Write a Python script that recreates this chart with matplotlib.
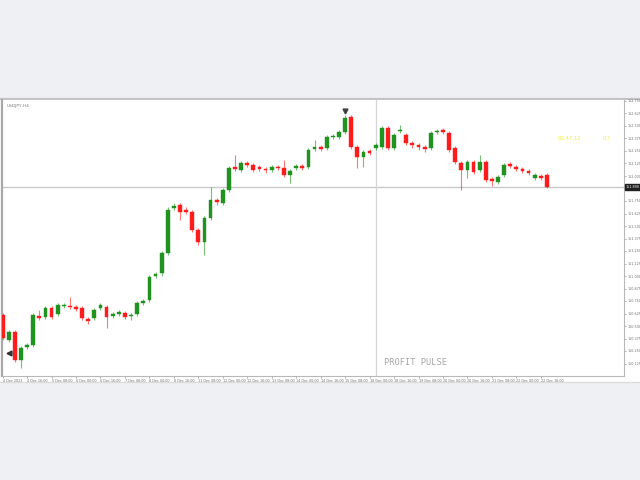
import matplotlib
matplotlib.use("Agg")
import matplotlib.pyplot as plt
from matplotlib.patches import Rectangle
from matplotlib.lines import Line2D
import numpy as np

# ---- data (USDJPY H4) ----
opens = [150.61,150.36,150.44,150.16,150.29,150.31,150.60,150.59,150.68,150.62,
         150.70,150.70,150.69,150.68,150.57,150.58,150.68,150.69,150.60,150.62,
         150.63,150.60,150.62,150.73,150.76,151.00,151.03,151.23,151.68,151.71,
         151.66,151.64,151.46,151.34,151.58,151.76,151.73,151.86,152.09,152.06,
         152.13,152.11,152.09,152.07,152.06,152.09,152.08,152.01,152.08,152.10,
         152.09,152.27,152.29,152.28,152.39,152.39,152.44,152.59,152.29,152.19,
         152.25,152.28,152.29,152.48,152.28,152.45,152.41,152.33,152.31,152.29,
         152.28,152.44,152.46,152.43,152.28,152.13,152.06,152.14,152.06,152.14,
         151.97,151.94,152.01,152.12,152.09,152.07,152.05,151.98,152.00,152.01]
closes = [150.38,150.44,150.16,150.28,150.31,150.61,150.58,150.68,150.59,150.71,
          150.71,150.69,150.67,150.58,150.55,150.66,150.71,150.59,150.62,150.64,
          150.59,150.61,150.73,150.75,150.99,151.02,151.23,151.66,151.70,151.64,
          151.64,151.46,151.34,151.58,151.76,151.74,151.86,152.08,152.07,152.13,
          152.11,152.06,152.07,152.06,152.09,152.08,152.01,152.05,152.10,152.08,
          152.26,152.29,152.27,152.39,152.40,152.44,152.58,152.29,152.19,152.24,
          152.23,152.31,152.48,152.28,152.41,152.46,152.33,152.31,152.29,152.27,
          152.43,152.45,152.44,152.26,152.14,152.06,152.14,152.04,152.14,151.96,
          151.95,151.99,152.11,152.10,152.07,152.05,152.03,152.01,151.98,151.89]
highs = [150.63,150.46,150.46,150.30,150.33,150.63,150.66,150.70,150.70,150.73,
         150.73,150.79,150.71,150.70,150.59,150.68,150.73,150.71,150.64,150.66,
         150.65,150.63,150.75,150.77,151.01,151.04,151.25,151.69,151.73,151.73,
         151.69,151.66,151.48,151.60,151.89,151.78,151.88,152.10,152.21,152.15,
         152.15,152.13,152.11,152.09,152.11,152.11,152.16,152.07,152.12,152.12,
         152.28,152.36,152.31,152.41,152.42,152.46,152.61,152.61,152.31,152.26,
         152.27,152.33,152.50,152.50,152.43,152.51,152.43,152.35,152.33,152.31,
         152.45,152.47,152.48,152.45,152.30,152.15,152.16,152.16,152.21,152.16,
         151.99,152.01,152.13,152.14,152.11,152.09,152.07,152.03,152.02,152.03]
lows = [150.36,150.34,150.14,150.08,150.27,150.29,150.56,150.57,150.57,150.60,
        150.68,150.67,150.65,150.56,150.52,150.56,150.66,150.48,150.58,150.60,
        150.57,150.56,150.60,150.71,150.74,150.98,151.00,151.21,151.66,151.56,
        151.62,151.44,151.31,151.21,151.56,151.71,151.71,151.84,152.05,152.04,
        152.09,152.04,152.05,152.03,152.04,152.06,151.99,151.93,152.06,152.06,
        152.07,152.25,152.25,152.26,152.37,152.37,152.42,152.27,152.08,152.09,
        152.21,152.26,152.27,152.26,152.26,152.43,152.31,152.28,152.26,152.24,
        152.26,152.42,152.42,152.24,152.12,151.86,151.98,152.02,152.04,151.94,
        151.90,151.92,151.99,152.08,152.05,152.03,152.01,151.96,151.96,151.88]
date_labels = ["4 Dec 2023","4 Dec 16:00","5 Dec 08:00","6 Dec 00:00","6 Dec 16:00",
               "7 Dec 08:00","8 Dec 00:00","8 Dec 16:00","11 Dec 08:00","12 Dec 00:00",
               "12 Dec 16:00","13 Dec 08:00","14 Dec 00:00","14 Dec 16:00","15 Dec 08:00",
               "18 Dec 00:00","18 Dec 16:00","19 Dec 08:00","20 Dec 00:00","20 Dec 16:00",
               "21 Dec 08:00","22 Dec 00:00","22 Dec 16:00"]
current_price = 151.89
crosshair_index = 61.1
buy_arrow_price = 150.23
symbol_label = "USDJPY,H4"
watermark = "PROFIT PULSE"
timer_text = "00:47:12"
spread_text = "0.7"

GREEN = "#1f921f"
RED = "#ff1c1c"

fig = plt.figure(figsize=(6.4, 4.8), dpi=100, facecolor="#eff0f4")
# white chart panel
panel = Rectangle((0, 1 - 382/480), 1, (382 - 98)/480, transform=fig.transFigure,
                  facecolor="white", edgecolor="none", zorder=-5)
fig.patches.append(panel)
fig.lines.append(Line2D([0, 1], [1 - 98.5/480]*2, transform=fig.transFigure,
                        color="#c4c4c4", lw=1.6, zorder=-4))
fig.lines.append(Line2D([0, 1], [1 - 381.5/480]*2, transform=fig.transFigure,
                        color="#dcdcdc", lw=1.0, zorder=-4))

ax = fig.add_axes([2/640, 1 - 376/480, (624 - 2)/640, (376 - 100)/480])
ax.set_zorder(2)
ax.set_facecolor("white")

n = len(opens)
idx = np.arange(n)
o = np.array(opens); c = np.array(closes); h = np.array(highs); l = np.array(lows)
up = c >= o
cols = np.where(up, GREEN, RED)
ax.vlines(idx, l, h, colors=cols, lw=0.8, alpha=0.6, zorder=3)
body_bottom = np.minimum(o, c)
body_h = np.maximum(np.abs(c - o), 0.012)
ax.bar(idx, body_h, bottom=body_bottom, width=0.62, color=cols, edgecolor=cols,
       linewidth=0.3, zorder=4)

# price line and crosshair
ax.axhline(current_price, color="#c8c8c8", lw=1.0, zorder=1)
ax.axvline(crosshair_index, color="#d4d4d4", lw=0.9, zorder=1)

ax.set_xlim(-0.1, 101.6)
ax.set_ylim(150.00, 152.76)

# right price axis
ax.yaxis.tick_right()
yt = np.arange(150.125, 152.76, 0.125)
ax.set_yticks(yt)
ax.set_yticklabels(["" if abs(v - current_price) < 0.06 else f"{v:.3f}" for v in yt],
                   fontsize=2.4, color="#707070")
ax.tick_params(axis="y", length=1.5, width=0.5, color="#909090", pad=0.8)
ax.set_xticks(np.arange(0, 4*len(date_labels), 4))
ax.set_xticklabels(date_labels, fontsize=2.4, color="#707070", ha="left")
ax.tick_params(axis="x", length=1.2, width=0.5, color="#909090", pad=0.8)

ax.spines["top"].set_visible(False)
ax.spines["left"].set_color("#a8a8a8"); ax.spines["left"].set_linewidth(1.6)
ax.spines["right"].set_color("#b8b8b8"); ax.spines["right"].set_linewidth(0.8)
ax.spines["bottom"].set_color("#b8b8b8"); ax.spines["bottom"].set_linewidth(0.8)

# current price label on the axis
ax.annotate(f"{current_price:.3f}", xy=(1.0, current_price), xycoords=("axes fraction", "data"),
            xytext=(1.5, 0), textcoords="offset points", fontsize=2.4, color="white",
            va="center", ha="left",
            bbox=dict(boxstyle="square,pad=0.3", fc="#202020", ec="#202020"), zorder=6,
            annotation_clip=False)

# texts
ax.text(0.008, 0.985, symbol_label, transform=ax.transAxes, fontsize=3.2, color="#808080",
        va="top", ha="left")
ax.text(0.912, 0.86, timer_text, transform=ax.transAxes, fontsize=3.8, color="#f0ec40",
        va="center", ha="center")
ax.text(0.972, 0.86, spread_text, transform=ax.transAxes, fontsize=3.8, color="#f0ec40",
        va="center", ha="center")
ax.text(0.665, 0.05, watermark, transform=ax.transAxes, fontsize=6.2, color="#a6a6a6",
        family="DejaVu Sans Mono", va="center", ha="center")

# markers
ax.plot([56], [highs[56] + 0.04], marker="v", ms=3.5, color="#404040", zorder=5)
ax.plot([1], [buy_arrow_price], marker="<", ms=3.5, color="#303030", zorder=5)

fig.savefig("out.png", dpi=100, facecolor=fig.get_facecolor())
